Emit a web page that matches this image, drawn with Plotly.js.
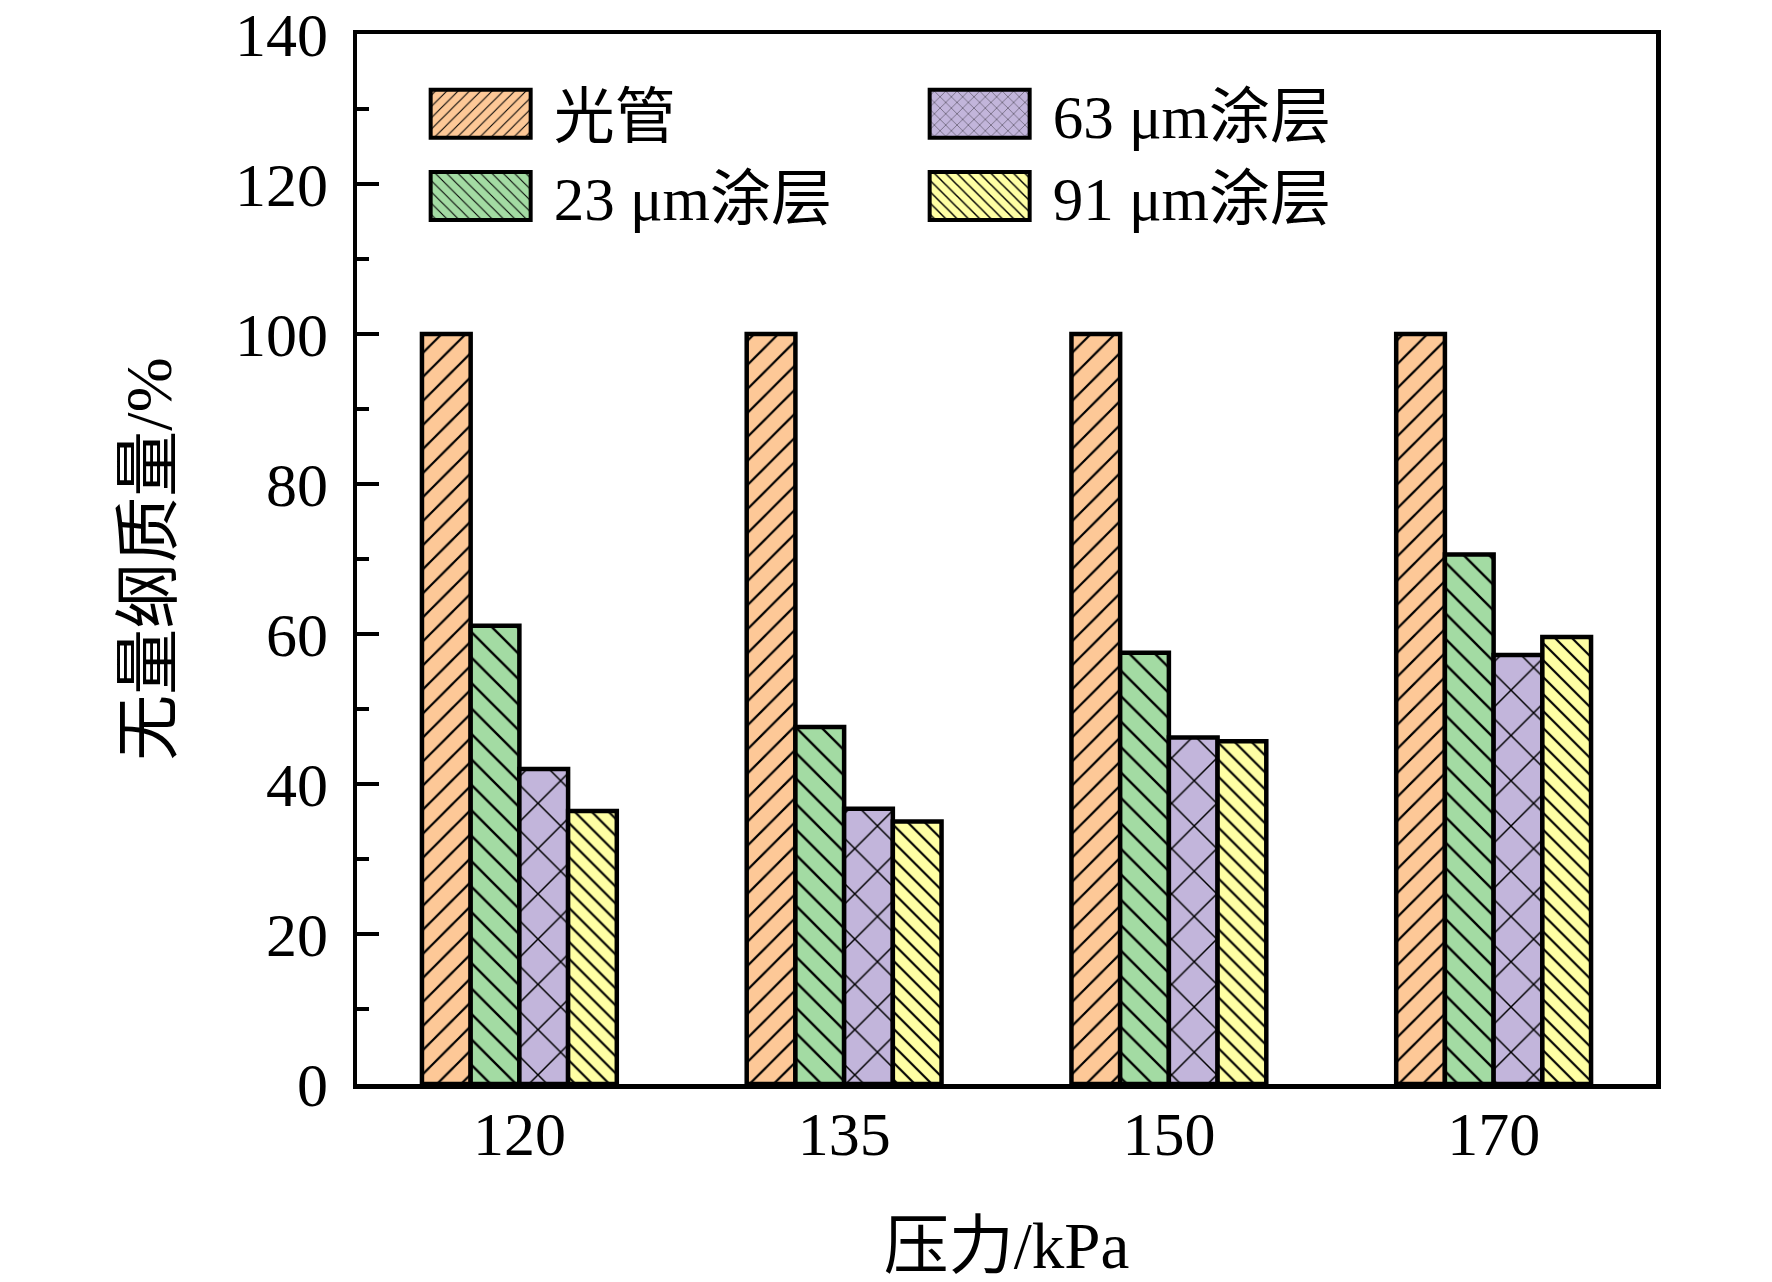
<!DOCTYPE html>
<html>
<head>
<meta charset="utf-8">
<script src="https://cdn.plot.ly/plotly-3.0.1.min.js"></script>
<style>
  html, body { margin: 0; padding: 0; background: #fff; }
  #chart { width: 1772px; height: 1282px; }
</style>
</head>
<body>
<div id="chart"></div>
<script>
// pressure groups (kPa)
const pressures = ["120", "135", "150", "170"];

// dimensionless mass, %
const bareTube = [100, 100, 100, 100];
const coat23 = [61.1, 47.6, 57.5, 70.6];
const coat63 = [42.0, 36.7, 46.2, 57.2];
const coat91 = [36.4, 35.0, 45.7, 59.6];

const names = ["光管", "23 μm涂层", "63 μm涂层", "91 μm涂层"];
const fills = ["#FDC897", "#A3DBA3", "#C2B5DB", "#FFFFA4"];
const hatch = ["/", "\\", "x", "\\"];
const hatchSize = [17, 18, 32, 12];
const hatchSolid = [0.13, 0.13, 0.09, 0.18];
// legend is filled row by row, the reference reads column by column
const legendOrder = [1, 3, 2, 4];

const FONT = 'Liberation Serif, "Noto Sans CJK SC", serif';

const series = [bareTube, coat23, coat63, coat91];
const traces = series.map((vals, i) => ({
  type: "bar",
  name: names[i],
  x: pressures,
  y: vals,
  legendrank: legendOrder[i],
  marker: {
    color: fills[i],
    line: { color: "black", width: 4.5 },
    pattern: {
      shape: hatch[i],
      fillmode: "overlay",
      fgcolor: "black",
      fgopacity: 1,
      bgcolor: fills[i],
      size: hatchSize[i],
      solidity: hatchSolid[i]
    }
  },
  hoverinfo: "x+y+name"
}));

const layout = {
  width: 1772,
  height: 1282,
  paper_bgcolor: "white",
  plot_bgcolor: "white",
  font: { family: FONT, size: 60, color: "black" },
  margin: { l: 357, r: 116, t: 34, b: 198 },
  barmode: "group",
  bargap: 0.4,
  bargroupgap: 0,
  showlegend: true,
  legend: {
    orientation: "h",
    x: 0.039,
    xanchor: "left",
    y: 0.968,
    yanchor: "top",
    bgcolor: "rgba(0,0,0,0)",
    borderwidth: 0,
    entrywidth: 348,
    entrywidthmode: "pixels",
    itemwidth: 136,
    traceorder: "normal",
    font: { family: FONT, size: 61, color: "black" }
  },
  xaxis: {
    type: "category",
    range: [-0.5, 3.5],
    showline: true,
    linecolor: "black",
    linewidth: 4.5,
    mirror: true,
    ticks: "",
    ticklabelstandoff: -8,
    tickfont: { family: FONT, size: 62 },
    title: { text: "压力/kPa", font: { family: FONT, size: 65 }, standoff: 70 },
    showgrid: false,
    zeroline: false
  },
  yaxis: {
    range: [0, 140],
    dtick: 20,
    showline: true,
    linecolor: "black",
    linewidth: 4.5,
    mirror: true,
    ticks: "inside",
    ticklen: 22,
    tickwidth: 4,
    tickcolor: "black",
    minor: { ticks: "inside", dtick: 10, ticklen: 12, tickwidth: 4, tickcolor: "black", showgrid: false },
    ticklabelstandoff: 12,
    tickfont: { family: FONT, size: 62 },
    title: { text: "无量纲质量/%", font: { family: FONT, size: 66 }, standoff: 43 },
    showgrid: false,
    zeroline: false
  }
};

// bigger legend swatches, like the reference
function growSwatches() {
  document.querySelectorAll("#chart .legend .legendpoints path").forEach(p => {
    p.setAttribute("d", "M-50,-24H50V24H-50Z");
    p.style.strokeWidth = "4px";
  });
}

const gd = document.getElementById("chart");
Plotly.newPlot(gd, traces, layout, { displayModeBar: false, staticPlot: true }).then(() => {
  growSwatches();
  gd.on("plotly_afterplot", growSwatches);
});
</script>
</body>
</html>
